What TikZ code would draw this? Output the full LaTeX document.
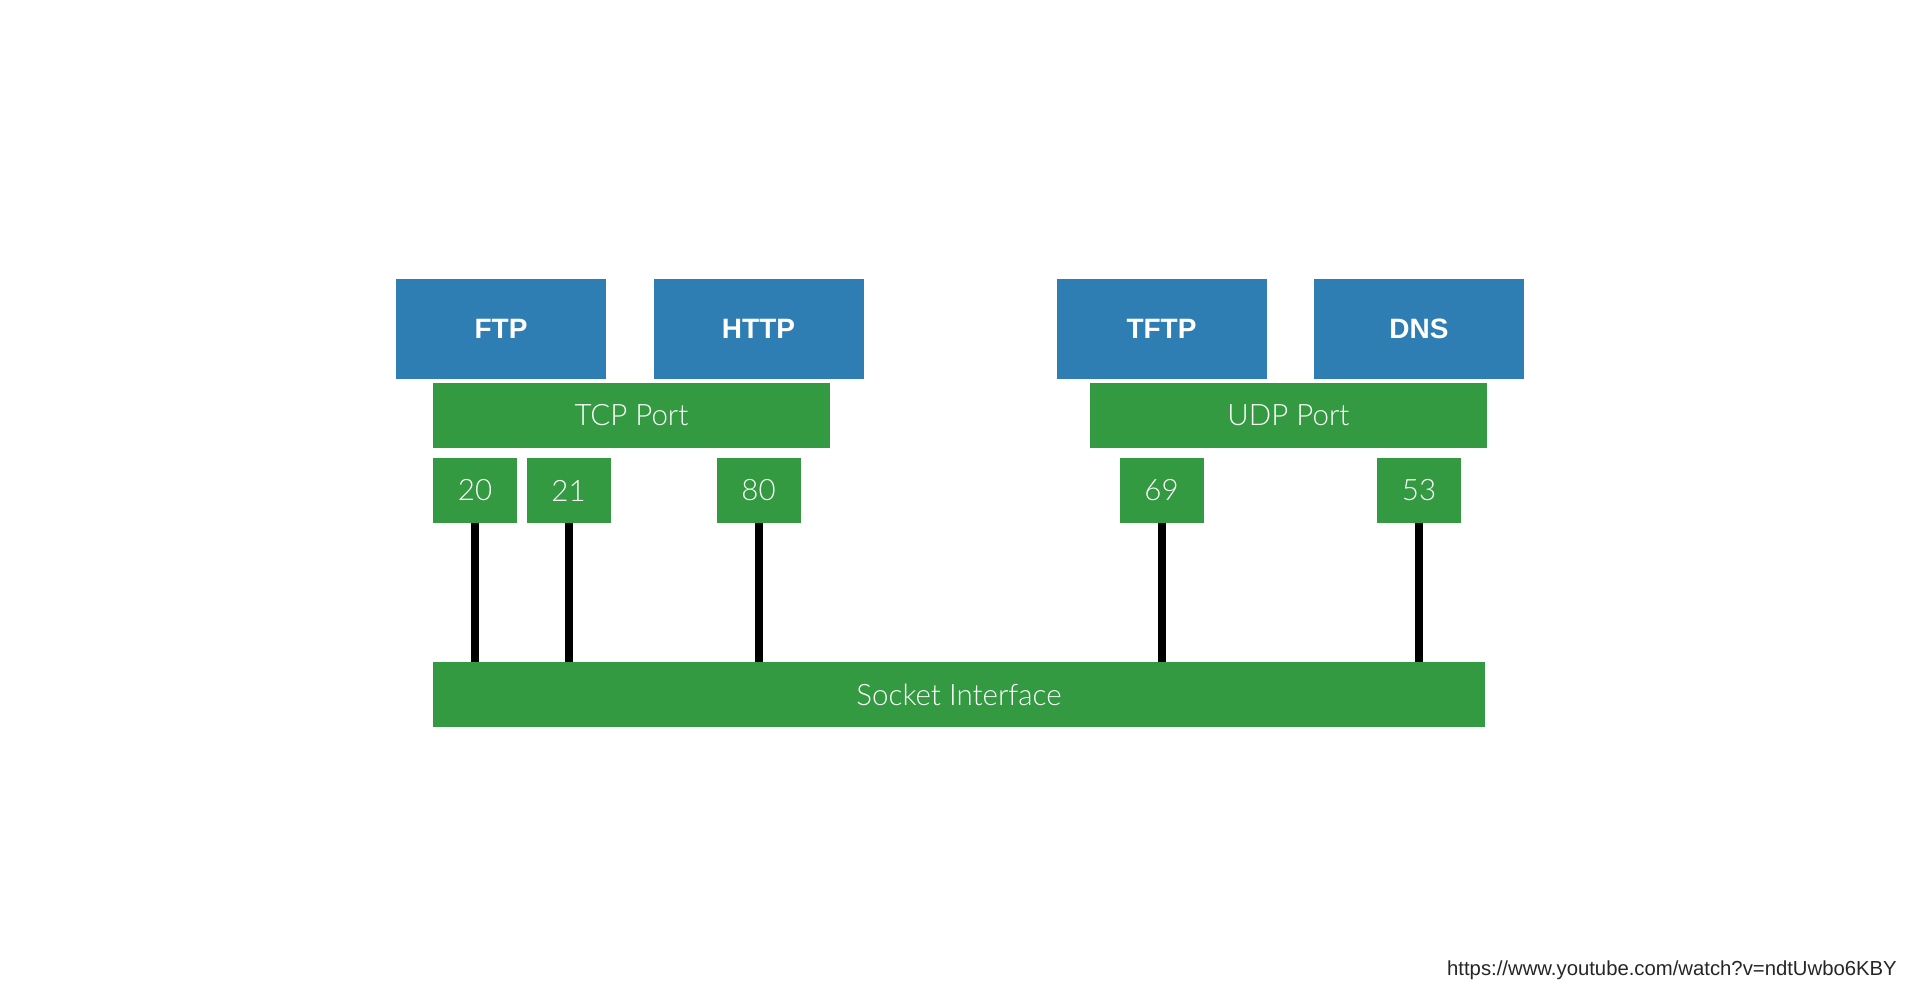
\documentclass[tikz,border=0pt]{standalone}
\usepackage{fontspec}
\setmainfont{Liberation Sans}
\newfontfamily\lightfont{Lato Light}
\definecolor{appblue}{RGB}{46,125,179}
\definecolor{portgreen}{RGB}{51,154,66}
\tikzset{
    appbox/.style={fill=appblue, text=white, minimum width=210pt, minimum height=100pt, inner sep=0pt, font=\fontsize{28}{28}\selectfont\bfseries},
    portbox/.style={fill=portgreen, text=white, minimum height=65pt, inner sep=0pt, font=\lightfont\fontsize{29.5}{29.5}\selectfont},
    wire/.style={line width=8pt, black}
}
\begin{document}
\begin{tikzpicture}[x=1pt,y=-1pt]
    \useasboundingbox[fill=white] (0,0) rectangle (1920,1005);
    % applications
    \node[appbox] (ftp) at (501,329) {FTP};
    \node[appbox] (http) at (758.5,329) {HTTP};
    \node[appbox] (tftp) at (1161.5,329) {TFTP};
    \node[appbox] (dns) at (1419,329) {DNS};
    % transport
    \node[portbox, minimum width=397pt] (tcp) at (631.5,415.5) {TCP Port};
    \node[portbox, minimum width=397pt] (udp) at (1288.5,415.5) {UDP Port};
    % port numbers
    \node[portbox, minimum width=84pt] (p20) at (475,490.5) {20};
    \node[portbox, minimum width=84pt] (p21) at (568.5,490.5) {21};
    \node[portbox, minimum width=84pt] (p80) at (758.5,490.5) {80};
    \node[portbox, minimum width=84pt] (p69) at (1161.5,490.5) {69};
    \node[portbox, minimum width=84pt] (p53) at (1419,490.5) {53};
    % socket
    \node[portbox, minimum width=1052pt] (sock) at (959,694.5) {Socket Interface};
    \draw[wire] (p20.south) -- (p20.south |- sock.north);
    \draw[wire] (p21.south) -- (p21.south |- sock.north);
    \draw[wire] (p80.south) -- (p80.south |- sock.north);
    \draw[wire] (p69.south) -- (p69.south |- sock.north);
    \draw[wire] (p53.south) -- (p53.south |- sock.north);
    \node[anchor=base east, inner sep=0pt, text=black!85, font=\fontsize{20.3}{20.3}\selectfont] (url) at (1897,975) {https://www.youtube.com/watch?v=ndtUwbo6KBY};
\end{tikzpicture}
\end{document}
